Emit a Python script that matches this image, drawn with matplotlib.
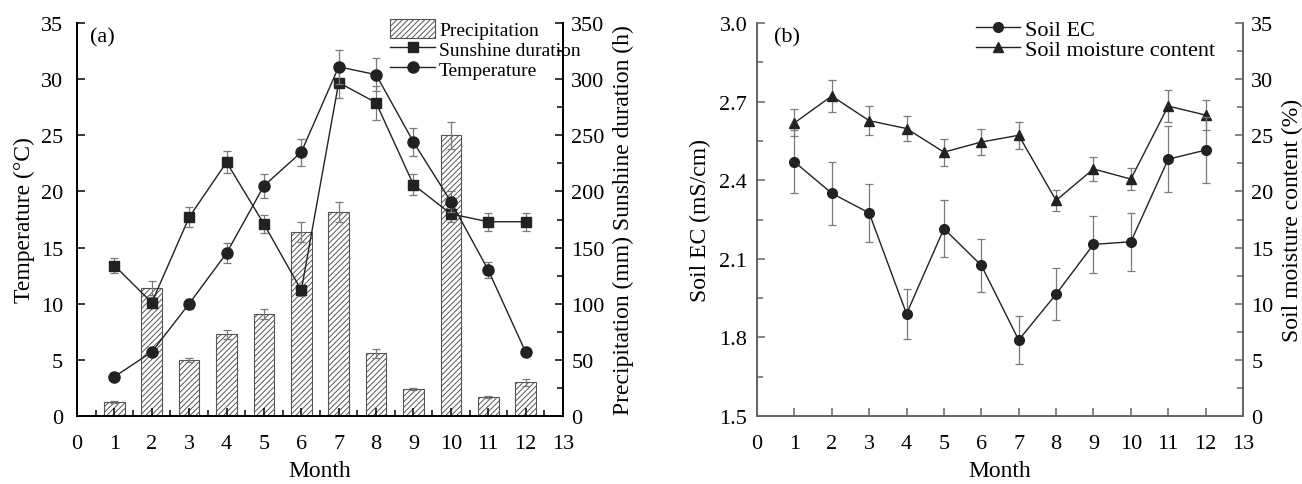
import matplotlib
matplotlib.use("Agg")
import matplotlib.pyplot as plt
from matplotlib.ticker import MultipleLocator
import numpy as np

plt.rcParams['font.family'] = ['Liberation Serif', 'DejaVu Serif']
plt.rcParams['hatch.linewidth'] = 0.7

months = [1, 2, 3, 4, 5, 6, 7, 8, 9, 10, 11, 12]

# Panel (a)
temperature = [3.5, 5.7, 10.0, 14.5, 20.5, 23.5, 31.1, 30.4, 24.4, 19.1, 13.0, 5.7]
temperature_err = [0.3, 0.3, 0.45, 0.9, 1.05, 1.2, 1.5, 1.5, 1.25, 0.9, 0.7, 0.3]
sunshine = [134, 101, 177, 226, 171, 112, 297, 279, 206, 180, 173, 173]
sunshine_err = [6.5, 5, 9, 10, 8, 5, 14, 15, 9.5, 7.5, 8, 8]
precipitation = [12.5, 114, 50, 73, 91, 164, 182, 56, 24, 250, 17, 30]
precipitation_err = [1, 6, 2, 4, 4.5, 9, 9, 4, 1, 12, 1, 3]

# Panel (b)
soil_ec = [2.47, 2.35, 2.275, 1.89, 2.215, 2.075, 1.79, 1.965, 2.155, 2.165, 2.48, 2.515]
soil_ec_err = [0.12, 0.12, 0.11, 0.095, 0.11, 0.1, 0.09, 0.1, 0.11, 0.11, 0.125, 0.125]
soil_moisture = [26.1, 28.5, 26.3, 25.6, 23.5, 24.4, 25.0, 19.2, 22.0, 21.1, 27.6, 26.8]
soil_moisture_err = [1.2, 1.4, 1.3, 1.1, 1.2, 1.2, 1.2, 0.9, 1.1, 1.0, 1.4, 1.3]

W, H = 1302, 485
fig = plt.figure(figsize=(W / 100, H / 100), dpi=100)

TICK_FS = 16
LABEL_FS = 17
LINE_C = '#222222'
ERR_C = '#7a7a7a'

def style_axis(ax, color):
    for s in ['left', 'right', 'bottom']:
        ax.spines[s].set_color(color)
        ax.spines[s].set_linewidth(1.3)
    ax.spines['top'].set_visible(False)

# ---------------- Panel (a) ----------------
axa = fig.add_axes([77 / W, 1 - 417 / H, 486 / W, 393 / H])
axa2 = axa.twinx()
axa.set_zorder(axa2.get_zorder() + 1)
axa.patch.set_visible(False)

bars = axa2.bar(months, precipitation, width=0.55, facecolor='white', edgecolor='#555555',
                hatch='//////', linewidth=0.8, yerr=precipitation_err,
                error_kw=dict(ecolor=ERR_C, elinewidth=0.9, capsize=3, capthick=0.9),
                label='Precipitation')
sun_line = axa2.errorbar(months, sunshine, yerr=sunshine_err, color=LINE_C, marker='s', ms=6.5,
                         lw=1.0, ecolor=ERR_C, elinewidth=0.9, capsize=3, capthick=0.9,
                         label='Sunshine duration')
temp_line = axa.errorbar(months, temperature, yerr=temperature_err, color=LINE_C, marker='o', ms=8,
                         lw=1.0, ecolor=ERR_C, elinewidth=0.9, capsize=3, capthick=0.9,
                         label='Temperature')

axa.set_xlim(0, 13)
axa.set_ylim(0, 35)
axa2.set_ylim(0, 350)
axa.xaxis.set_major_locator(MultipleLocator(1))
axa.xaxis.set_minor_locator(MultipleLocator(0.5))
axa.yaxis.set_major_locator(MultipleLocator(5))
axa2.yaxis.set_major_locator(MultipleLocator(50))
axa2.yaxis.set_minor_locator(MultipleLocator(25))

style_axis(axa, 'black')
style_axis(axa2, 'black')
axa.tick_params(axis='x', which='major', direction='in', length=6, width=1.1, labelsize=TICK_FS, pad=13)
axa.tick_params(axis='x', which='minor', direction='in', length=4, width=1.1)
axa.tick_params(axis='y', which='major', direction='in', length=6, width=1.1, labelsize=TICK_FS, pad=10)
axa2.tick_params(axis='y', which='major', direction='in', length=6, width=1.1, labelsize=TICK_FS, pad=6)
axa2.tick_params(axis='y', which='minor', direction='in', length=4, width=1.1)

axa.set_xlabel('Month', fontsize=LABEL_FS, labelpad=5)
axa.set_ylabel('Temperature (°C)', fontsize=LABEL_FS, labelpad=4)
axa2.set_ylabel('Precipitation (mm) Sunshine duration (h)', fontsize=LABEL_FS, labelpad=6)
axa.text(0.027, 0.99, '(a)', transform=axa.transAxes, fontsize=TICK_FS, va='top', ha='left')

leg = axa.legend([bars, sun_line[0], temp_line[0]], ['Precipitation', 'Sunshine duration', 'Temperature'],
                 loc='upper left', bbox_to_anchor=(0.645, 1.01), frameon=False, fontsize=14,
                 borderpad=0, labelspacing=0.0, handlelength=2.3, handleheight=1.1,
                 handletextpad=0.2, borderaxespad=0)

# ---------------- Panel (b) ----------------
GRAY_SP = '#666666'
axb = fig.add_axes([757 / W, 1 - 417 / H, 486 / W, 393 / H])
axb2 = axb.twinx()
axb.set_zorder(axb2.get_zorder() + 1)
axb.patch.set_visible(False)

ec_line = axb.errorbar(months, soil_ec, yerr=soil_ec_err, color=LINE_C, marker='o', ms=7,
                       lw=1.0, ecolor=ERR_C, elinewidth=0.9, capsize=3, capthick=0.9,
                       label='Soil EC')
sm_line = axb2.errorbar(months, soil_moisture, yerr=soil_moisture_err, color=LINE_C, marker='^', ms=7.5,
                        lw=1.0, ecolor=ERR_C, elinewidth=0.9, capsize=3, capthick=0.9,
                        label='Soil moisture content')

axb.set_xlim(0, 13)
axb.set_ylim(1.5, 3.0)
axb2.set_ylim(0, 35)
axb.xaxis.set_major_locator(MultipleLocator(1))
axb.yaxis.set_major_locator(MultipleLocator(0.3))
axb.yaxis.set_minor_locator(MultipleLocator(0.15))
axb.yaxis.set_major_formatter(matplotlib.ticker.FormatStrFormatter('%.1f'))
axb2.yaxis.set_major_locator(MultipleLocator(5))
axb2.yaxis.set_minor_locator(MultipleLocator(2.5))

style_axis(axb, GRAY_SP)
style_axis(axb2, GRAY_SP)
axb.tick_params(axis='x', which='major', direction='in', length=6, width=1.1, color=GRAY_SP,
                labelsize=TICK_FS, pad=13)
axb.tick_params(axis='y', which='major', direction='in', length=6, width=1.1, color=GRAY_SP,
                labelsize=TICK_FS, pad=7)
axb.tick_params(axis='y', which='minor', direction='in', length=4, width=1.1, color=GRAY_SP)
axb2.tick_params(axis='y', which='major', direction='in', length=6, width=1.1, color=GRAY_SP,
                 labelsize=TICK_FS, pad=6)
axb2.tick_params(axis='y', which='minor', direction='in', length=4, width=1.1, color=GRAY_SP)

axb.set_xlabel('Month', fontsize=LABEL_FS, labelpad=5)
axb.set_ylabel('Soil EC (mS/cm)', fontsize=LABEL_FS, labelpad=6)
axb2.set_ylabel('Soil moisture content (%)', fontsize=LABEL_FS, labelpad=6)
axb.text(0.035, 0.99, '(b)', transform=axb.transAxes, fontsize=TICK_FS, va='top', ha='left')

axb.legend([ec_line[0], sm_line[0]], ['Soil EC', 'Soil moisture content'],
           loc='upper left', bbox_to_anchor=(0.45, 1.01), frameon=False, fontsize=16,
           borderpad=0, labelspacing=0.0, handlelength=2.0, handletextpad=0.2, borderaxespad=0)

fig.savefig('out.png', dpi=100)
